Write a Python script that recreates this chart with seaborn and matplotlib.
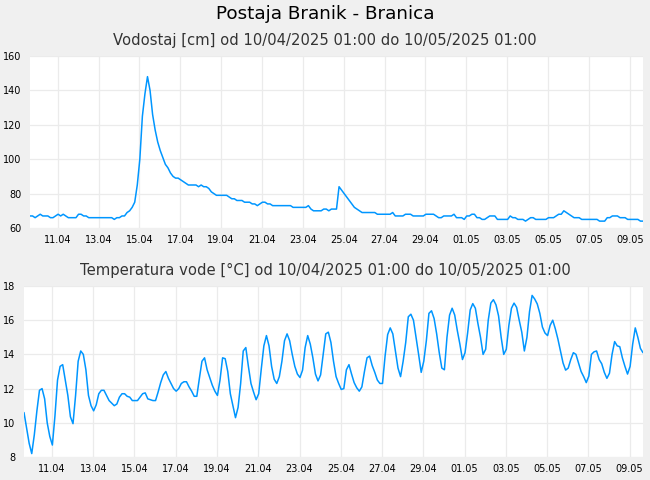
import numpy as np
import pandas as pd
import seaborn as sns
import matplotlib.pyplot as plt

# readings every 3 hours from 10/04/2025 01:00 to 10/05/2025 01:00
start = "2025-04-10 01:00"

vodostaj = [
    67, 67, 66, 67, 68, 67, 67, 67, 66, 66, 67, 68, 67, 68, 67, 66,
    66, 66, 66, 68, 68, 67, 67, 66, 66, 66, 66, 66, 66, 66, 66, 66,
    66, 65, 66, 66, 67, 67, 69, 70, 72, 75, 85, 100, 125, 138,
    148, 140, 126, 117, 110, 105, 101, 97, 95, 92, 90, 89, 89, 88, 87, 86,
    85, 85, 85, 85, 84, 85, 84, 84, 83, 81, 80, 79, 79, 79, 79, 79,
    78, 77, 77, 76, 76, 76, 75, 75, 75, 74, 74, 73, 74, 75, 75, 74,
    74, 73, 73, 73, 73, 73, 73, 73, 73, 72, 72, 72, 72, 72, 72, 73,
    71, 70, 70, 70, 70, 71, 71, 70, 71, 71, 71, 84, 82, 80, 78, 76,
    74, 72, 71, 70, 69, 69, 69, 69, 69, 69, 68, 68, 68, 68, 68, 68,
    69, 67, 67, 67, 67, 68, 68, 68, 67, 67, 67, 67, 67, 68, 68, 68,
    68, 67, 66, 66, 67, 67, 67, 67, 68, 66, 66, 66, 65, 67, 67, 68,
    68, 66, 66, 65, 65, 66, 67, 67, 67, 65, 65, 65, 65, 65, 67, 66,
    66, 65, 65, 65, 64, 65, 66, 66, 65, 65, 65, 65, 65, 66, 66, 66,
    67, 68, 68, 70, 69, 68, 67, 66, 66, 66, 65, 65, 65, 65, 65, 65,
    65, 64, 64, 64, 66, 66, 67, 67, 67, 66, 66, 66, 65, 65, 65, 65,
    65, 64, 64,
]

temperatura = [
    10.6, 9.7, 8.8, 8.2, 9.3, 10.7, 11.9, 12.0, 11.4, 10.0, 9.2, 8.7,
    10.4, 12.5, 13.3, 13.4, 12.5, 11.6, 10.35, 9.95, 11.6, 13.6, 14.2, 14.0,
    13.1, 11.6, 11.0, 10.7, 11.05, 11.7, 11.9, 11.9, 11.6, 11.3, 11.15, 11.0,
    11.1, 11.5, 11.7, 11.7, 11.55, 11.5, 11.3, 11.3, 11.3, 11.5, 11.7, 11.75,
    11.4, 11.35, 11.3, 11.3, 11.8, 12.35, 12.8, 13.0, 12.6, 12.3, 12.0, 11.85,
    12.0, 12.3, 12.4, 12.4, 12.1, 11.85, 11.55, 11.55, 12.6, 13.6, 13.8, 13.1,
    12.65, 12.2, 11.85, 11.6, 12.5, 13.8, 13.75, 13.0, 11.7, 11.0, 10.3, 10.9,
    12.3, 14.2, 14.4, 13.3, 12.3, 11.8, 11.35, 11.7, 13.15, 14.5, 15.1, 14.5,
    13.3, 12.55, 12.3, 12.7, 13.6, 14.8, 15.2, 14.8, 14.0, 13.3, 12.85, 12.65,
    13.08, 14.4, 15.1, 14.6, 13.8, 12.85, 12.45, 12.8, 14.0, 15.2, 15.3, 14.7,
    13.6, 12.7, 12.3, 11.95, 12.0, 13.1, 13.4, 12.85, 12.35, 12.05, 11.85, 12.1,
    13.0, 13.8, 13.9, 13.35, 12.95, 12.5, 12.3, 12.3, 13.9, 15.16, 15.55, 15.2,
    14.2, 13.2, 12.7, 13.6, 14.7, 16.2, 16.35, 16.0, 15.0, 14.0, 12.95, 13.6,
    14.8, 16.4, 16.55, 16.1, 15.2, 14.1, 13.2, 13.1, 15.0, 16.3, 16.7, 16.3,
    15.4, 14.6, 13.7, 14.1, 15.25, 16.6, 16.97, 16.7, 15.8, 15.0, 14.0, 14.3,
    16.0, 17.0, 17.2, 16.9, 16.25, 15.0, 14.0, 14.3, 15.7, 16.7, 17.0, 16.75,
    16.0, 15.3, 14.2, 15.0, 16.5, 17.45, 17.24, 16.95, 16.4, 15.6, 15.25, 15.1,
    15.7, 16.0, 15.5, 14.9, 14.2, 13.5, 13.08, 13.2, 13.7, 14.1, 14.0, 13.5,
    13.0, 12.7, 12.35, 12.73, 14.0, 14.15, 14.2, 13.7, 13.45, 12.95, 12.6, 12.9,
    14.0, 14.75, 14.5, 14.45, 13.8, 13.3, 12.85, 13.3, 14.6, 15.55, 15.0, 14.35,
    14.1,
]

tick_labels = ["11.04", "13.04", "15.04", "17.04", "19.04", "21.04", "23.04",
               "25.04", "27.04", "29.04", "01.05", "03.05", "05.05", "07.05", "09.05"]

cas = pd.date_range(start, periods=len(vodostaj), freq="3h")
df = pd.DataFrame({"cas": cas, "vodostaj": vodostaj, "temperatura": temperatura})

sns.set_style("white")
plt.rcParams["font.family"] = ["DejaVu Sans"]

line_color = "#0096ff"
grid_color = "#ebebeb"

fig = plt.figure(figsize=(6.5, 4.8), dpi=100, facecolor="#f0f0f0")
ax1 = fig.add_axes([30 / 650, 1 - 228 / 480, 613 / 650, 172 / 480])
ax2 = fig.add_axes([24 / 650, 1 - 457 / 480, 619 / 650, 171 / 480])

tick_pos = pd.date_range("2025-04-11 09:30", periods=len(tick_labels), freq="2D")

for ax, col, ylim, yt in [
    (ax1, "vodostaj", (60, 160), np.arange(60, 161, 20)),
    (ax2, "temperatura", (8, 18), np.arange(8, 19, 2)),
]:
    sns.lineplot(data=df, x="cas", y=col, ax=ax, color=line_color, linewidth=1.1)
    ax.set_facecolor("white")
    ax.set_xlim(df["cas"].iloc[0], df["cas"].iloc[-1])
    ax.set_ylim(*ylim)
    ax.set_yticks(yt)
    ax.set_xticks(tick_pos)
    ax.set_xticklabels(tick_labels)
    ax.set_xlabel("")
    ax.set_ylabel("")
    ax.grid(True, color=grid_color, linewidth=0.9)
    ax.set_axisbelow(True)
    for s in ax.spines.values():
        s.set_visible(False)
    ax.tick_params(length=0, labelsize=7, colors="black")
    ax.tick_params(axis="y", pad=6)
    ax.tick_params(axis="x", pad=5)

fig.text(0.5, 1 - 14 / 480, "Postaja Branik - Branica", ha="center", va="center",
         fontsize=13.2, color="black")
fig.text(0.5, 1 - 40 / 480, "Vodostaj [cm] od 10/04/2025 01:00 do 10/05/2025 01:00",
         ha="center", va="center", fontsize=10.6, color="#333333")
fig.text(0.5, 1 - 270 / 480, "Temperatura vode [°C] od 10/04/2025 01:00 do 10/05/2025 01:00",
         ha="center", va="center", fontsize=10.6, color="#333333")

fig.savefig("out.png", dpi=100, facecolor=fig.get_facecolor())
